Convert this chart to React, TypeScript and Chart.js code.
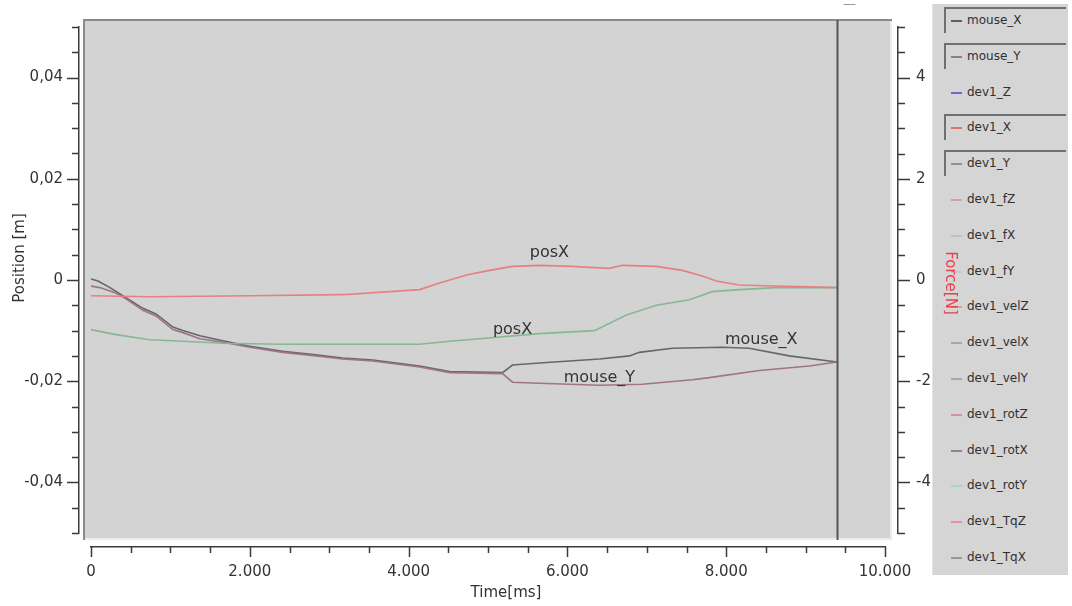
import { useEffect, useRef } from "react";
import { Chart, registerables } from "chart.js";

Chart.register(...registerables);
Chart.defaults.font.family = "'DejaVu Sans', Verdana, sans-serif";

// ---- recorded series (time in ms, position in m) ----
const devXTime = [0, 742, 2000, 3170, 3761, 4139, 4390, 4730, 5019, 5309, 5648, 6063, 6277, 6529, 6693, 7120, 7447, 7699, 7875, 8164, 8580, 8919, 9397];
const devXPos = [-0.0031, -0.0033, -0.0031, -0.0029, -0.0023, -0.0019, -0.0006, 0.001, 0.0019, 0.0027, 0.0029, 0.0027, 0.0025, 0.0023, 0.0029, 0.0027, 0.0019, 0.0008, -0.0002, -0.001, -0.0012, -0.0013, -0.0015];

const devYTime = [0, 315, 742, 1157, 1660, 2415, 3170, 4139, 4516, 4894, 5648, 6340, 6743, 7120, 7535, 7825, 8164, 8630, 9397];
const devYPos = [-0.0098, -0.0108, -0.0118, -0.0121, -0.0125, -0.0127, -0.0127, -0.0127, -0.0121, -0.0116, -0.0106, -0.01, -0.0069, -0.005, -0.0039, -0.0023, -0.0019, -0.0015, -0.0015];

const mouseXTime = [0, 88, 239, 440, 654, 818, 1031, 1157, 1371, 1660, 2000, 2415, 2831, 3170, 3548, 4139, 4516, 5183, 5309, 5648, 6403, 6781, 6906, 7322, 7951, 8290, 8793, 9397];
const mouseXPos = [0.0002, -0.0002, -0.0015, -0.0035, -0.0056, -0.0067, -0.0093, -0.01, -0.011, -0.012, -0.0131, -0.0141, -0.0148, -0.0154, -0.0158, -0.017, -0.0181, -0.0183, -0.0168, -0.0164, -0.0156, -0.015, -0.0143, -0.0135, -0.0133, -0.0135, -0.015, -0.0162];

const mouseYTime = [0, 113, 302, 440, 654, 818, 1031, 1157, 1371, 1660, 2000, 2415, 2831, 3170, 3548, 4139, 4516, 5183, 5309, 5648, 6403, 6944, 7573, 7787, 8416, 9045, 9397];
const mouseYPos = [-0.0012, -0.0015, -0.0025, -0.0037, -0.006, -0.0071, -0.0098, -0.0104, -0.0116, -0.0123, -0.0133, -0.0143, -0.015, -0.0156, -0.016, -0.0172, -0.0183, -0.0185, -0.0202, -0.0204, -0.0208, -0.0206, -0.0197, -0.0193, -0.0179, -0.017, -0.0162];

// ---- in-plot curve labels ----
const curveLabelText = ["posX", "posX", "mouse_X", "mouse_Y"];
const curveLabelTime = [5774, 5309, 8441, 6403];
const curveLabelPos = [0.0054, -0.0098, -0.0118, -0.0193];

// ---- cursor marker ----
const cursorTime = 9400;

// ---- axes ----
const xTickValues = [0, 2000, 4000, 6000, 8000, 10000];
const xMinorStep = 500;
const yTickValues = [-0.04, -0.02, 0, 0.02, 0.04];
const yMinorStep = 0.005;
const y1TickValues = [-4, -2, 0, 2, 4];
const y1MinorStep = 0.5;

// ---- legend ----
const legendNames = ["mouse_X", "mouse_Y", "dev1_Z", "dev1_X", "dev1_Y", "dev1_fZ", "dev1_fX", "dev1_fY", "dev1_velZ", "dev1_velX", "dev1_velY", "dev1_rotZ", "dev1_rotX", "dev1_rotY", "dev1_TqZ", "dev1_TqX"];
const legendColors = ["#5e5e66", "#8a8088", "#6a6ad0", "#e07070", "#909090", "#e49a9a", "#b8c8b8", "#c8c8c8", "#d8a0a0", "#a8a8a8", "#a8a8a8", "#d890a8", "#888888", "#9ed8c8", "#e890a8", "#989898"];
const legendActive = [true, true, false, true, true, false, false, false, false, false, false, false, false, false, false, false];

const AXIS_COLOR = "#3a3a3a";
const TEXT_COLOR = "#333333";

const fmtX = (v: number) => (v === 0 ? "0" : String(v).replace(/\B(?=(\d{3})+(?!\d))/g, "."));
const fmtY = (v: number) => (Math.abs(v) < 1e-9 ? "0" : v.toFixed(2).replace(".", ","));

const toPoints = (t: number[], v: number[]) => t.map((x, i) => ({ x, y: v[i] }));

const decorPlugin = {
  id: "decor",
  beforeDraw(chart: any) {
    const { ctx, chartArea: a } = chart;
    const l = a.left - 8, t = a.top - 8, r = a.right + 7, b = a.bottom + 7;
    ctx.save();
    ctx.fillStyle = "#d3d3d3";
    ctx.fillRect(l, t, r - l, b - t);
    ctx.lineWidth = 2;
    ctx.strokeStyle = "#8a8a8a";
    ctx.beginPath();
    ctx.moveTo(l + 1, b);
    ctx.lineTo(l + 1, t + 1);
    ctx.lineTo(r, t + 1);
    ctx.stroke();
    ctx.strokeStyle = "#ececec";
    ctx.beginPath();
    ctx.moveTo(l + 2, b - 1);
    ctx.lineTo(r - 1, b - 1);
    ctx.lineTo(r - 1, t + 2);
    ctx.stroke();
    ctx.restore();
  },
  afterDatasetsDraw(chart: any) {
    const { ctx, chartArea: a, scales } = chart;
    const xs = scales.x, ys = scales.y;
    ctx.save();
    // cursor line
    const cx = Math.round(xs.getPixelForValue(cursorTime)) + 0.5;
    ctx.strokeStyle = "#555555";
    ctx.lineWidth = 2;
    ctx.beginPath();
    ctx.moveTo(cx, a.top - 7);
    ctx.lineTo(cx, a.bottom + 7);
    ctx.stroke();
    ctx.strokeStyle = "#9a9a9a";
    ctx.lineWidth = 1;
    ctx.beginPath();
    ctx.moveTo(cx + 6, 4.5);
    ctx.lineTo(cx + 18, 4.5);
    ctx.stroke();
    // curve labels
    ctx.fillStyle = TEXT_COLOR;
    ctx.font = "16px 'DejaVu Sans'";
    ctx.textAlign = "center";
    ctx.textBaseline = "middle";
    curveLabelText.forEach((txt, i) => {
      ctx.fillText(txt, xs.getPixelForValue(curveLabelTime[i]), ys.getPixelForValue(curveLabelPos[i]));
    });
    ctx.restore();
  },
  afterDraw(chart: any) {
    const { ctx, scales } = chart;
    const xs = scales.x, ys = scales.y, y1 = scales.y1;
    ctx.save();
    ctx.strokeStyle = AXIS_COLOR;
    ctx.lineWidth = 1.5;
    const isMajor = (v: number, list: number[]) => list.some((m) => Math.abs(m - v) < 1e-9);
    // x ticks
    for (let v = 0; v <= 10000 + 1e-6; v += xMinorStep) {
      const p = Math.round(xs.getPixelForValue(v)) + 0.5;
      const len = isMajor(v, xTickValues) ? 10 : 6;
      ctx.beginPath();
      ctx.moveTo(p, xs.top);
      ctx.lineTo(p, xs.top + len);
      ctx.stroke();
    }
    // left ticks
    for (let k = -10; k <= 10; k++) {
      const v = k * yMinorStep;
      const p = Math.round(ys.getPixelForValue(v)) + 0.5;
      const len = isMajor(v, yTickValues) ? 12 : 7;
      ctx.beginPath();
      ctx.moveTo(ys.right, p);
      ctx.lineTo(ys.right - len, p);
      ctx.stroke();
    }
    // right ticks
    for (let k = -10; k <= 10; k++) {
      const v = k * y1MinorStep;
      const p = Math.round(y1.getPixelForValue(v)) + 0.5;
      const len = isMajor(v, y1TickValues) ? 12 : 7;
      ctx.beginPath();
      ctx.moveTo(y1.left, p);
      ctx.lineTo(y1.left + len, p);
      ctx.stroke();
    }
    // axis titles
    ctx.font = "15px 'DejaVu Sans'";
    ctx.textAlign = "center";
    ctx.textBaseline = "middle";
    ctx.fillStyle = TEXT_COLOR;
    ctx.fillText("Time[ms]", 506, 593);
    ctx.save();
    ctx.translate(20, 258);
    ctx.rotate(-Math.PI / 2);
    ctx.fillText("Position [m]", 0, 0);
    ctx.restore();
    ctx.save();
    ctx.translate(950, 283);
    ctx.rotate(Math.PI / 2);
    ctx.fillStyle = "#e8404c";
    ctx.fillText("Force[N]", 0, 0);
    ctx.restore();
    ctx.restore();
  },
};

const gapScale = (axis: "x" | "y", position: string, size: number) => ({
  type: "linear" as const,
  axis,
  position,
  weight: 0,
  display: true,
  min: 0,
  max: 1,
  grid: { display: false, drawTicks: false },
  border: { display: false },
  ticks: { display: false },
  afterFit: (s: any) => {
    if (axis === "x") s.height = size;
    else s.width = size;
  },
});

export default function App() {
  const canvasRef = useRef<HTMLCanvasElement | null>(null);

  useEffect(() => {
    if (!canvasRef.current) return;
    const line = (label: string, t: number[], v: number[], color: string) => ({
      label,
      data: toPoints(t, v),
      borderColor: color,
      backgroundColor: color,
      borderWidth: 1.6,
      pointRadius: 0,
      tension: 0,
      fill: false,
      xAxisID: "x",
      yAxisID: "y",
    });
    const chart = new Chart(canvasRef.current, {
      type: "line",
      data: {
        datasets: [
          line("dev1_X", devXTime, devXPos, "#e6807f"),
          line("dev1_Y", devYTime, devYPos, "#86b893"),
          line("mouse_Y", mouseYTime, mouseYPos, "#a07484"),
          line("mouse_X", mouseXTime, mouseXPos, "#66666e"),
        ],
      },
      options: {
        responsive: false,
        animation: false,
        events: [],
        layout: { padding: { top: 17, right: 114, bottom: 0, left: 0 } },
        plugins: { legend: { display: false }, tooltip: { enabled: false } },
        scales: {
          x: {
            type: "linear",
            position: "bottom",
            weight: 1,
            min: 0,
            max: 10000,
            grid: { display: false, drawTicks: false },
            border: { display: true, color: AXIS_COLOR, width: 1.5 },
            afterBuildTicks: (s: any) => {
              s.ticks = xTickValues.map((value) => ({ value }));
            },
            ticks: {
              autoSkip: false,
              maxRotation: 0,
              padding: 16,
              color: TEXT_COLOR,
              font: { size: 15 },
              callback: (v: any) => fmtX(Number(v)),
            },
            afterFit: (s: any) => {
              s.height = 59;
            },
          },
          xGap: gapScale("x", "bottom", 14),
          y: {
            type: "linear",
            position: "left",
            weight: 1,
            min: -0.05,
            max: 0.05,
            grid: { display: false, drawTicks: false },
            border: { display: true, color: AXIS_COLOR, width: 1.5 },
            afterBuildTicks: (s: any) => {
              s.ticks = yTickValues.map((value) => ({ value }));
            },
            ticks: {
              autoSkip: false,
              padding: 16,
              color: TEXT_COLOR,
              font: { size: 15 },
              callback: (v: any) => fmtY(Number(v)),
            },
            afterFit: (s: any) => {
              s.width = 79;
            },
          },
          yGap: gapScale("y", "left", 12),
          y1: {
            type: "linear",
            position: "right",
            weight: 1,
            min: -5,
            max: 5,
            grid: { display: false, drawTicks: false },
            border: { display: true, color: AXIS_COLOR, width: 1.5 },
            afterBuildTicks: (s: any) => {
              s.ticks = y1TickValues.map((value) => ({ value }));
            },
            ticks: {
              autoSkip: false,
              padding: 18,
              color: TEXT_COLOR,
              font: { size: 15 },
              callback: (v: any) => String(v),
            },
            afterFit: (s: any) => {
              s.width = 60;
            },
          },
          y1Gap: gapScale("y", "right", 13),
        } as any,
      },
      plugins: [decorPlugin],
    });
    return () => chart.destroy();
  }, []);

  return (
    <div style={{ position: "absolute", left: 0, top: 0, width: 1072, height: 606, background: "#ffffff", overflow: "hidden" }}>
      <div
        style={{
          position: "absolute",
          left: 932,
          top: 4,
          width: 136,
          height: 571,
          background: "#d5d5d5",
          borderLeft: "1px solid #e4e4e4",
          boxSizing: "border-box",
        }}
      >
        {legendNames.map((name, i) => {
          const cy = 16 + 35.8 * i;
          return (
            <div
              key={name}
              style={{
                position: "absolute",
                left: 11,
                top: cy - 13,
                width: 122,
                height: 26,
                boxSizing: "border-box",
                borderTop: legendActive[i] ? "2px solid #707070" : "2px solid transparent",
                borderLeft: legendActive[i] ? "2px solid #707070" : "2px solid transparent",
                fontFamily: "'DejaVu Sans', Verdana, sans-serif",
                fontSize: 12,
                color: "#303030",
              }}
            >
              <span
                style={{
                  position: "absolute",
                  left: 5,
                  top: 11,
                  width: 11,
                  height: 2,
                  background: legendColors[i],
                }}
              />
              <span style={{ position: "absolute", left: 21, top: 4, whiteSpace: "nowrap", lineHeight: "15px" }}>{name}</span>
            </div>
          );
        })}
      </div>
      <canvas ref={canvasRef} width={1072} height={606} style={{ position: "absolute", left: 0, top: 0 }} />
    </div>
  );
}
